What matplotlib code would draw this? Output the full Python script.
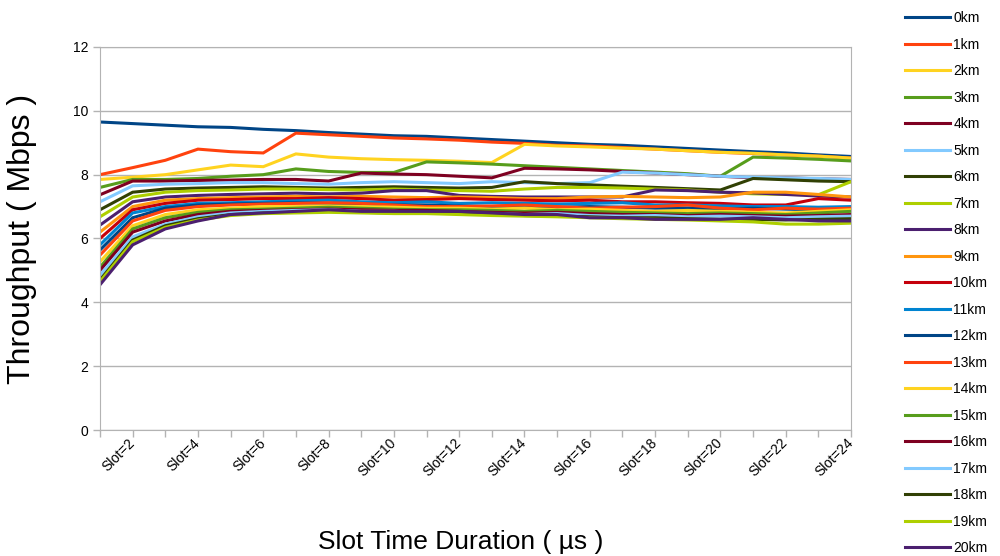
import matplotlib
matplotlib.use("Agg")
import matplotlib.pyplot as plt
import matplotlib.transforms as mtransforms

# Throughput vs slot time duration for 0..20 km distances
slots = ["Slot=%d" % i for i in range(1, 25)]

km0 = [9.65, 9.6, 9.55, 9.5, 9.48, 9.42, 9.38, 9.32, 9.27, 9.22, 9.2, 9.15, 9.1, 9.05, 9.0, 8.95, 8.92, 8.87, 8.82, 8.77, 8.72, 8.68, 8.62, 8.57]
km1 = [8.0, 8.22, 8.45, 8.8, 8.72, 8.68, 9.3, 9.25, 9.2, 9.15, 9.12, 9.08, 9.02, 8.98, 8.92, 8.9, 8.85, 8.8, 8.75, 8.7, 8.66, 8.62, 8.58, 8.52]
km2 = [7.85, 7.92, 8.0, 8.15, 8.3, 8.25, 8.65, 8.55, 8.5, 8.47, 8.45, 8.42, 8.38, 8.95, 8.9, 8.87, 8.83, 8.8, 8.75, 8.7, 8.67, 8.62, 8.58, 8.52]
km3 = [7.6, 7.85, 7.85, 7.88, 7.95, 8.0, 8.18, 8.1, 8.07, 8.07, 8.4, 8.37, 8.33, 8.28, 8.23, 8.18, 8.13, 8.08, 8.03, 7.95, 8.55, 8.52, 8.48, 8.43]
km4 = [7.37, 7.8, 7.8, 7.82, 7.83, 7.85, 7.85, 7.8, 8.05, 8.02, 8.0, 7.95, 7.9, 8.2, 8.18, 8.15, 8.1, 8.05, 8.0, 7.95, 7.9, 7.9, 7.87, 7.85]
km5 = [7.15, 7.65, 7.7, 7.72, 7.75, 7.75, 7.72, 7.7, 7.75, 7.78, 7.75, 7.72, 7.78, 7.75, 7.72, 7.75, 8.08, 8.05, 8.0, 7.95, 7.92, 7.9, 7.88, 7.85]
km6 = [6.9, 7.45, 7.55, 7.58, 7.6, 7.62, 7.6, 7.58, 7.6, 7.62, 7.6, 7.58, 7.6, 7.78, 7.72, 7.68, 7.64, 7.6, 7.56, 7.52, 7.88, 7.84, 7.8, 7.78]
km7 = [6.68, 7.3, 7.45, 7.5, 7.52, 7.55, 7.55, 7.53, 7.52, 7.55, 7.52, 7.5, 7.48, 7.55, 7.6, 7.6, 7.58, 7.55, 7.52, 7.45, 7.4, 7.38, 7.37, 7.78]
km8 = [6.42, 7.15, 7.3, 7.35, 7.38, 7.4, 7.42, 7.4, 7.42, 7.5, 7.5, 7.35, 7.32, 7.3, 7.3, 7.3, 7.3, 7.52, 7.5, 7.45, 7.43, 7.38, 7.33, 7.3]
km9 = [6.2, 7.0, 7.2, 7.25, 7.28, 7.3, 7.32, 7.3, 7.32, 7.3, 7.28, 7.3, 7.28, 7.25, 7.25, 7.3, 7.32, 7.3, 7.28, 7.3, 7.45, 7.45, 7.38, 7.3]
km10 = [6.0, 6.9, 7.1, 7.2, 7.22, 7.25, 7.25, 7.28, 7.25, 7.2, 7.22, 7.25, 7.22, 7.2, 7.18, 7.2, 7.15, 7.15, 7.12, 7.1, 7.05, 7.05, 7.25, 7.2]
km11 = [5.8, 6.8, 7.0, 7.1, 7.12, 7.15, 7.18, 7.2, 7.15, 7.12, 7.15, 7.1, 7.12, 7.1, 7.08, 7.1, 7.12, 7.05, 7.05, 7.02, 7.0, 7.0, 6.98, 7.0]
km12 = [5.64, 6.65, 6.95, 7.05, 7.08, 7.1, 7.12, 7.1, 7.08, 7.05, 7.05, 7.02, 7.0, 7.0, 6.98, 7.0, 6.98, 6.95, 6.95, 6.92, 6.95, 6.92, 6.9, 6.88]
km13 = [5.48, 6.55, 6.88, 7.0, 7.05, 7.08, 7.1, 7.12, 7.1, 7.05, 7.0, 7.0, 7.02, 7.05, 7.0, 6.95, 6.98, 7.0, 7.05, 6.95, 6.9, 6.95, 6.92, 6.95]
km14 = [5.27, 6.4, 6.75, 6.9, 6.95, 7.0, 7.0, 7.02, 7.0, 6.98, 6.95, 6.95, 6.92, 6.95, 6.9, 6.92, 6.88, 6.85, 6.88, 6.85, 6.82, 6.8, 6.85, 6.9]
km15 = [5.1, 6.3, 6.65, 6.82, 6.9, 6.92, 6.95, 6.98, 6.95, 6.92, 6.9, 6.9, 6.88, 6.85, 6.88, 6.85, 6.82, 6.8, 6.78, 6.8, 6.78, 6.75, 6.8, 6.85]
km16 = [5.0, 6.2, 6.55, 6.75, 6.85, 6.88, 6.9, 6.92, 6.9, 6.88, 6.88, 6.85, 6.82, 6.8, 6.82, 6.78, 6.75, 6.75, 6.72, 6.75, 6.72, 6.7, 6.72, 6.75]
km17 = [4.85, 6.05, 6.45, 6.68, 6.8, 6.85, 6.88, 6.9, 6.85, 6.85, 6.82, 6.8, 6.78, 6.75, 6.78, 6.72, 6.7, 6.72, 6.68, 6.7, 6.68, 6.65, 6.68, 6.7]
km18 = [4.7, 5.95, 6.4, 6.62, 6.75, 6.8, 6.82, 6.85, 6.82, 6.8, 6.8, 6.78, 6.75, 6.72, 6.7, 6.68, 6.65, 6.65, 6.62, 6.6, 6.6, 6.58, 6.6, 6.62]
km19 = [4.65, 5.9, 6.35, 6.58, 6.72, 6.78, 6.8, 6.82, 6.8, 6.78, 6.78, 6.75, 6.72, 6.7, 6.68, 6.65, 6.62, 6.6, 6.58, 6.55, 6.52, 6.45, 6.45, 6.48]
km20 = [4.55, 5.8, 6.3, 6.55, 6.75, 6.8, 6.85, 6.9, 6.85, 6.85, 6.85, 6.85, 6.8, 6.75, 6.75, 6.65, 6.65, 6.6, 6.6, 6.6, 6.65, 6.6, 6.55, 6.55]

series = [km0, km1, km2, km3, km4, km5, km6, km7, km8, km9, km10,
          km11, km12, km13, km14, km15, km16, km17, km18, km19, km20]
labels = ["%dkm" % i for i in range(21)]

# LibreOffice default chart palette, repeats after 12
palette = ["#004586", "#ff420e", "#ffd320", "#579d1c", "#7e0021", "#83caff",
           "#314004", "#aecf00", "#4b1f6f", "#ff950e", "#c5000b", "#0084d1"]

plt.rcParams['font.family'] = ['Liberation Sans', 'DejaVu Sans']
grid_col = "#b3b3b3"

fig = plt.figure(figsize=(10, 5.56), dpi=100)
ax = fig.add_axes([0.1, 0.2266, 0.751, 0.6889])

x = list(range(len(slots)))
for i, vals in enumerate(series):
    ax.plot(x, vals, color=palette[i % 12], linewidth=2.2, label=labels[i],
            solid_joinstyle='miter')

ax.set_xlim(0, len(slots) - 1)
ax.set_ylim(0, 12)
ax.set_yticks(range(0, 13, 2))
ax.yaxis.grid(True, color=grid_col, linewidth=1)
ax.set_axisbelow(True)

ax.set_xticks(x)
ax.set_xticklabels([s if (i % 2 == 1) else "" for i, s in enumerate(slots)],
                   rotation=45, ha='right', rotation_mode='anchor', fontsize=10)
ax.tick_params(axis='both', color=grid_col, length=5, width=1, labelsize=10)
# nudge the slanted labels a bit up and left, like the original
shift = mtransforms.ScaledTranslation(-5 / 100, 6 / 100, fig.dpi_scale_trans)
for lab in ax.get_xticklabels():
    lab.set_transform(lab.get_transform() + shift)
for sp in ax.spines.values():
    sp.set_color(grid_col)

fig.text(0.461, 0.026, "Slot Time Duration ( µs )", fontsize=19,
         ha='center', va='center')
fig.text(0.022, 0.57, "Throughput ( Mbps )", fontsize=23, rotation=90,
         ha='center', va='center')

fig.legend(loc='upper left', bbox_to_anchor=(0.899, 0.99), frameon=False,
           fontsize=10, handlelength=3.3, handletextpad=0.2,
           labelspacing=0.9, borderaxespad=0.0)

fig.savefig("out.png", dpi=100)
